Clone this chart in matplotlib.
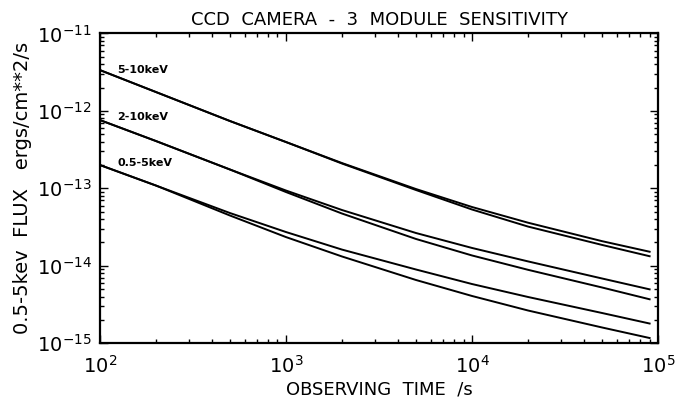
import matplotlib
matplotlib.use("Agg")
import matplotlib.pyplot as plt
from matplotlib.ticker import LogLocator, NullFormatter

# === Data (observing time in s, flux in erg/cm^2/s) ===
times = [100, 200, 500, 1000, 2000, 5000, 1e4, 2e4, 5e4, 9e4]

flux_5_10_hi = [3.36e-12, 1.75e-12, 7.39e-13, 3.96e-13, 2.12e-13, 9.79e-14, 5.74e-14, 3.60e-14, 2.08e-14, 1.52e-14]
flux_5_10_lo = [3.36e-12, 1.75e-12, 7.39e-13, 3.96e-13, 2.09e-13, 9.51e-14, 5.33e-14, 3.21e-14, 1.86e-14, 1.33e-14]

flux_2_10_hi = [7.61e-13, 4.08e-13, 1.75e-13, 9.37e-14, 5.25e-14, 2.65e-14, 1.70e-14, 1.14e-14, 6.86e-15, 4.97e-15]
flux_2_10_lo = [7.61e-13, 4.08e-13, 1.75e-13, 8.96e-14, 4.73e-14, 2.22e-14, 1.36e-14, 8.88e-15, 5.25e-15, 3.70e-15]

flux_05_5_hi = [2.00e-13, 1.087e-13, 4.80e-14, 2.73e-14, 1.62e-14, 8.96e-15, 5.82e-15, 3.96e-15, 2.46e-15, 1.80e-15]
flux_05_5_lo = [2.00e-13, 1.087e-13, 4.46e-14, 2.35e-14, 1.32e-14, 6.56e-15, 4.08e-15, 2.65e-15, 1.60e-15, 1.17e-15]

band_labels = ["5-10keV", "2-10keV", "0.5-5keV"]

x_ticks = [1e2, 1e3, 1e4, 1e5]
y_ticks = [1e-15, 1e-14, 1e-13, 1e-12, 1e-11]

plt.rcParams['font.family'] = ['DejaVu Sans']

fig = plt.figure(figsize=(6.75, 4.07), dpi=100)
ax = fig.add_axes([0.148, 0.1565, 0.827, 0.7615])

for hi, lo in [(flux_5_10_hi, flux_5_10_lo),
               (flux_2_10_hi, flux_2_10_lo),
               (flux_05_5_hi, flux_05_5_lo)]:
    ax.plot(times, hi, color='black', lw=1.4)
    ax.plot(times, lo, color='black', lw=1.4)

ax.set_xscale('log')
ax.set_yscale('log')
ax.set_xticks(x_ticks)
ax.set_yticks(y_ticks)
ax.set_xlim(1e2, 1e5)
ax.set_ylim(1e-15, 1e-11)

# curve labels next to the start of each pair
for label, yfrac in zip(band_labels, [0.882, 0.73, 0.582]):
    ax.text(0.031, yfrac, label, transform=ax.transAxes, fontsize=8,
            fontweight='bold', va='center', ha='left')

ax.xaxis.set_minor_locator(LogLocator(base=10, subs=range(2, 10), numticks=20))
ax.yaxis.set_minor_locator(LogLocator(base=10, subs=range(2, 10), numticks=20))
ax.xaxis.set_minor_formatter(NullFormatter())
ax.yaxis.set_minor_formatter(NullFormatter())

ax.tick_params(which='both', direction='in', top=True, right=True, width=1.0)
ax.tick_params(which='major', length=6, labelsize=14)
ax.tick_params(which='minor', length=3)
ax.tick_params(axis='x', which='major', pad=8)
ax.tick_params(axis='y', which='major', pad=6)

for s in ax.spines.values():
    s.set_linewidth(1.6)

ax.set_title("CCD  CAMERA  -  3  MODULE  SENSITIVITY", fontsize=13, pad=6)
ax.set_xlabel("OBSERVING  TIME  /s", fontsize=13, labelpad=3)
ax.set_ylabel("0.5-5kev  FLUX   ergs/cm**2/s", fontsize=14, labelpad=3)

fig.savefig("out.png", dpi=100)
